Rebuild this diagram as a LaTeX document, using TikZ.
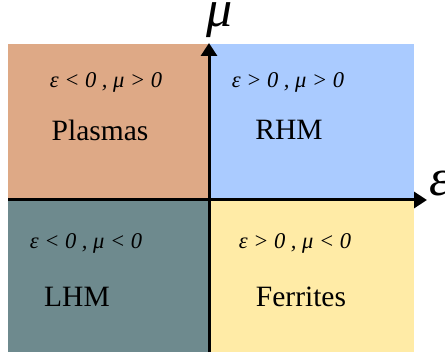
\documentclass[tikz,border=0pt]{standalone}
\usepackage{fontspec}
\setmainfont{Liberation Serif}
\newfontfamily\tms{Liberation Serif}
\usetikzlibrary{arrows.meta}
\definecolor{plasma}{HTML}{DEA986}
\definecolor{rhm}{HTML}{AACBFF}
\definecolor{lhm}{HTML}{6E8A8E}
\definecolor{ferr}{HTML}{FFEBA6}
\tikzset{
  cond/.style={font=\tms\fontsize{22.5}{25}\selectfont\itshape, inner sep=0pt},
  mat/.style={font=\tms\fontsize{29.5}{32}\selectfont\upshape, inner sep=0pt},
  axis/.style={line width=3pt, -{Triangle[length=13pt,width=16pt]}},
  axlabel/.style={font=\tms\fontsize{52}{56}\selectfont\itshape, inner sep=0pt}
}
\begin{document}
\begin{tikzpicture}[x=1pt,y=1pt]
\useasboundingbox (0,0) rectangle (445,354);
\fill[plasma] (8,154) rectangle (209,310);
\fill[rhm] (209,154) rectangle (414,310);
\fill[lhm] (8,2) rectangle (209,154);
\fill[ferr] (209,2) rectangle (414,154);
\coordinate (xs) at (8,154);
\coordinate (xe) at (427,154);
\coordinate (ys) at (209,2);
\coordinate (ye) at (209,311);
\draw[axis] (xs) -- (xe);
\draw[axis] (ys) -- (ye);
\node[axlabel] (mu) at (220,334) {μ};
\node[axlabel] (eps) at (440,170) {ε};
\node[cond] (c1) at (106,272) {ε < 0 , μ > 0};
\node[cond] (c2) at (288,272) {ε > 0 , μ > 0};
\node[cond] (c3) at (86,111) {ε < 0 , μ < 0};
\node[cond] (c4) at (295,111) {ε > 0 , μ < 0};
\node[mat] (m1) at (100,224) {Plasmas};
\node[mat] (m2) at (289,224) {RHM};
\node[mat] (m3) at (77,57) {LHM};
\node[mat] (m4) at (301,57) {Ferrites};
\end{tikzpicture}
\end{document}
